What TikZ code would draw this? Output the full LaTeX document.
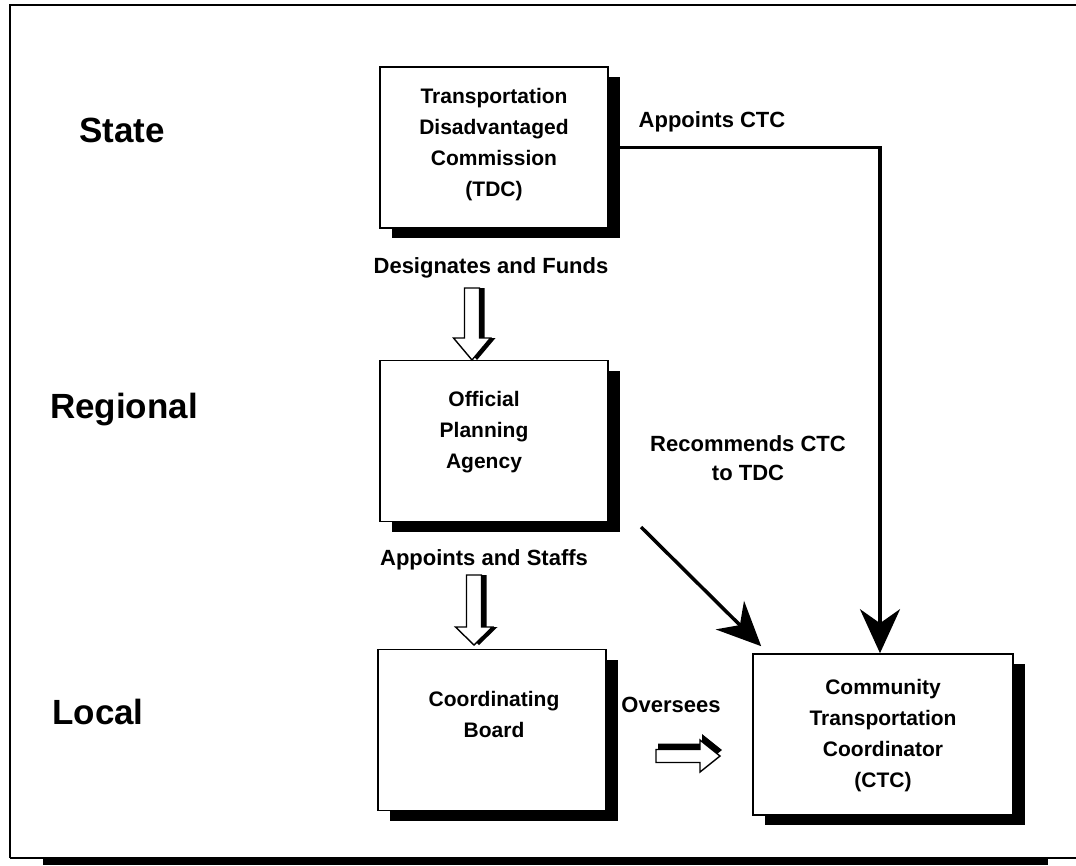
\documentclass[tikz,border=0pt]{standalone}
\usepackage{fontspec}
\setmainfont{Liberation Sans}
\usetikzlibrary{shadows,arrows.meta}
\newcommand\dnblk[4]{%
 \begin{scope}[xshift=5pt]\fill (#1-7.5,#2) -- (#1+7.5,#2) -- (#1+7.5,#3) -- (#1+18.5,#3) -- (#1,#4) -- (#1-18.5,#3) -- (#1-7.5,#3) -- cycle;\end{scope}
 \draw[barrow] (#1-7.5,#2) -- (#1+7.5,#2) -- (#1+7.5,#3) -- (#1+18.5,#3) -- (#1,#4) -- (#1-18.5,#3) -- (#1-7.5,#3) -- cycle;}
\newcommand\rtblk[4]{% yc, xleft, xwing, xtip
 \begin{scope}[xshift=2pt,yshift=6pt]\fill (#2,#1-6.5) -- (#3,#1-6.5) -- (#3,#1-16) -- (#4,#1) -- (#3,#1+16) -- (#3,#1+6.5) -- (#2,#1+6.5) -- cycle;\end{scope}
 \draw[barrow] (#2,#1-6.5) -- (#3,#1-6.5) -- (#3,#1-16) -- (#4,#1) -- (#3,#1+16) -- (#3,#1+6.5) -- (#2,#1+6.5) -- cycle;}
\begin{document}
\begin{tikzpicture}[x=1pt,y=-1pt,
 box/.style={draw,line width=1.6pt,fill=white,minimum width=228pt,minimum height=161pt,inner sep=0pt,
   drop shadow={shadow xshift=12pt,shadow yshift=-10pt,opacity=1,fill=black}},
 boxtext/.style={align=center,inner sep=0pt,font=\fontsize{21}{31}\selectfont\bfseries},
 level/.style={font=\fontsize{35}{40}\selectfont\bfseries},
 lab/.style={align=center,font=\fontsize{22}{29}\selectfont\bfseries},
 conn/.style={line width=3.5pt,-{Stealth[length=44pt,width=40pt,inset=14pt]}},
 barrow/.style={draw=black,line width=1.4pt,fill=white,line join=miter}]
\useasboundingbox (0,0) rectangle (1076,865);
\fill[white] (0,0) rectangle (1076,865);
% frame
\draw[line width=2pt] (10,858) -- (10,5) -- (1080,5);
\draw[line width=1.2pt] (10,858) -- (1080,858);
\fill (43,857) rectangle (1048,865);
% levels
\node[level] (state) at (122,130) {State};
\node[level] (regional) at (124,410) {Regional};
\node[level] (local) at (98,712) {Local};
% boxes
\node[box] (tdc) at (494,147.5) {};
\node[boxtext] (tdct) at (494,145) {Transportation\\Disadvantaged\\Commission\\(TDC)};
\node[box] (opa) at (494,441) {};
\node[boxtext] (opat) at (484,432) {Official\\Planning\\Agency};
\node[box] (cb) at (492,730) {};
\node[boxtext] (cbt) at (494,714) {Coordinating\\Board};
\node[box,minimum width=260pt] (ctc) at (883,734.5) {};
\node[boxtext] (ctct) at (883,736) {Community\\Transportation\\Coordinator\\(CTC)};
% labels
\node[lab] (l1) at (712,122) {Appoints CTC};
\node[lab] (l2) at (491,268) {Designates and Funds};
\node[lab] (l3) at (748,458) {Recommends CTC\\to TDC};
\node[lab] (l4) at (484,560) {Appoints and Staffs};
\node[lab] (l5) at (671,705) {Oversees};
% block arrows
\dnblk{472}{288}{338}{360}
\dnblk{474}{575}{627}{645}
\rtblk{756}{656}{700}{720}
% connectors
\coordinate (rs) at (641,527);
\draw[conn] (tdc.east) -| ([xshift=-3pt]ctc.north);
\draw[conn] (rs) -- ([shift={(9,-7)}]ctc.north west);
\end{tikzpicture}
\end{document}
